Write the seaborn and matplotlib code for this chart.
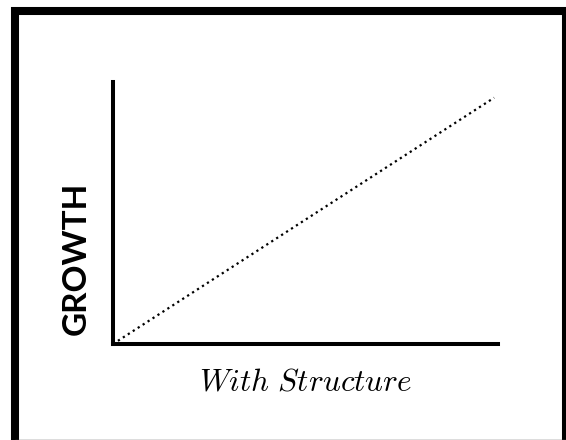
import matplotlib
matplotlib.use("Agg")
import matplotlib.pyplot as plt
import seaborn as sns
import pandas as pd
from matplotlib.lines import Line2D

# Data
x_vals = [0.0, 0.99]
y_vals = [0.0, 0.94]
x_label = "With Structure"
y_label = "GROWTH"

sns.set_theme(style="white")
plt.rcParams["mathtext.fontset"] = "cm"

W, H = 566, 440
fig = plt.figure(figsize=(W / 100, H / 100), dpi=100)
fig.patch.set_facecolor("white")


def fx(px):
    return px / W


def fy(py):
    return 1 - py / H


# outer frame (partly clipped at right/bottom)
frame_lw = 5.8
fig.add_artist(Line2D([fx(15), fx(15)], [fy(7), fy(440)], transform=fig.transFigure,
                      color="black", linewidth=frame_lw, solid_capstyle="butt"))
fig.add_artist(Line2D([fx(11), fx(566)], [fy(11), fy(11)], transform=fig.transFigure,
                      color="black", linewidth=frame_lw, solid_capstyle="butt"))
fig.add_artist(Line2D([fx(565.5), fx(565.5)], [fy(7), fy(440)], transform=fig.transFigure,
                      color="black", linewidth=frame_lw, solid_capstyle="butt"))
fig.add_artist(Line2D([fx(15), fx(566)], [fy(439.5), fy(439.5)], transform=fig.transFigure,
                      color="#555555", linewidth=1.0, solid_capstyle="butt"))

ax = fig.add_axes([113 / W, (H - 344) / H, (498 - 113) / W, (344 - 82) / H])
df = pd.DataFrame({"x": x_vals, "y": y_vals})
sns.lineplot(data=df, x="x", y="y", ax=ax, color="black", linestyle=":", linewidth=1.6)
ax.set_xlim(0, 1)
ax.set_ylim(0, 1)
ax.set_xticks([])
ax.set_yticks([])
for s in ["top", "right"]:
    ax.spines[s].set_visible(False)
for s in ["left", "bottom"]:
    ax.spines[s].set_color("black")
    ax.spines[s].set_linewidth(2.9)
ax.set_facecolor("white")
ax.set_xlabel(r"$\mathit{With\ Structure}$", fontsize=22.5, color="black", labelpad=17)
ax.set_ylabel(y_label, fontsize=24, fontweight="bold", family=["Lato", "DejaVu Sans"],
              color="black")
ax.yaxis.set_label_coords(-0.058, 0.325)

fig.savefig("out.png", dpi=100)
